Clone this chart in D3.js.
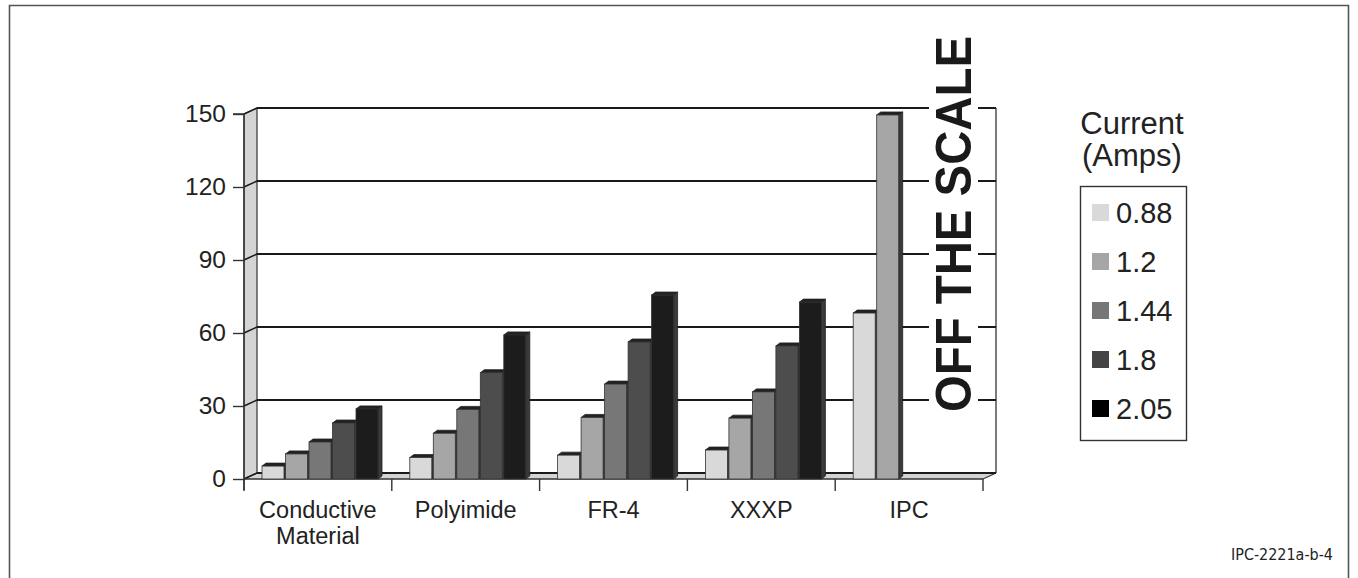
<!DOCTYPE html>
<html><head><meta charset="utf-8">
<script src="https://cdn.jsdelivr.net/npm/d3@7"></script>
<style>html,body{margin:0;padding:0;background:#fff;}svg{display:block;}</style>
</head><body>
<svg id="c" width="1358" height="578"></svg>
<script>
const categories = ["Conductive Material", "Polyimide", "FR-4", "XXXP", "IPC"];
const series = ["0.88", "1.2", "1.44", "1.8", "2.05"];
const values088 = [5.3, 8.8, 9.8, 11.9, 68.2];
const values120 = [10.3, 18.8, 25.3, 25.0, 149.6];
const values144 = [15.2, 28.6, 39.0, 35.8, null];
const values180 = [23.0, 43.7, 56.3, 54.7, null];
const values205 = [28.8, 59.2, 75.6, 72.7, null];
const yTicks = [0, 30, 60, 90, 120, 150];
const legendTitle = ["Current", "(Amps)"];
const note = "OFF THE SCALE";
const sourceLabel = "IPC-2221a-b-4";

const seriesValues = [values088, values120, values144, values180, values205];
const frontColors = ["#d9d9d9", "#a6a6a6", "#777777", "#4d4d4d", "#1c1c1c"];
const swatchColors = ["#d9d9d9", "#a6a6a6", "#777777", "#444444", "#000000"];

const svg = d3.select("#c");
const FONT = "'Liberation Sans', Arial, Helvetica, sans-serif";

// outer frame
svg.append("path").attr("d", "M9.5,600 L9.5,5.5 L1348.5,5.5 L1348.5,600")
  .attr("fill", "none").attr("stroke", "#555").attr("stroke-width", 1.6);

const DX = 13, DY = -6;
const x = d3.scaleBand().domain(categories).range([244, 983]);
const xs = d3.scaleBand().domain(series).range([18, 134]).paddingInner(1.5 / 23.5);
const y = d3.scaleLinear().domain([0, 150]).range([479, 114]);
const x0 = 244, x1 = 983;

const g = svg.append("g");
// side wall
g.append("path")
  .attr("d", `M${x0},${y(150)} L${x0 + DX},${y(150) + DY} L${x0 + DX},${y(0) + DY} L${x0},${y(0)} Z`)
  .attr("fill", "#d4d4d4").attr("stroke", "#333").attr("stroke-width", 1.2);
// floor
g.append("path")
  .attr("d", `M${x0},${y(0)} L${x0 + DX},${y(0) + DY} L${x1 + DX},${y(0) + DY} L${x1},${y(0)} Z`)
  .attr("fill", "#d4d4d4").attr("stroke", "#333").attr("stroke-width", 1.2);
// back wall right edge
g.append("line").attr("x1", x1 + DX).attr("x2", x1 + DX).attr("y1", y(150) + DY).attr("y2", y(0) + DY)
  .attr("stroke", "#222").attr("stroke-width", 1.2);
// gridlines
yTicks.forEach(t => {
  g.append("line").attr("x1", x0 + DX).attr("x2", x1 + DX).attr("y1", y(t) + DY).attr("y2", y(t) + DY)
    .attr("stroke", "#1a1a1a").attr("stroke-width", 2);
  g.append("line").attr("x1", x0).attr("x2", x0 + DX).attr("y1", y(t)).attr("y2", y(t) + DY)
    .attr("stroke", "#1a1a1a").attr("stroke-width", 1.5);
});

// y axis via d3
const yAxis = d3.axisLeft(y).tickValues(yTicks).tickSize(11).tickPadding(7);
const ya = svg.append("g").attr("transform", `translate(${x0},0)`).call(yAxis);
ya.select(".domain").attr("stroke", "#333").attr("stroke-width", 1.4).attr("d", `M-11,${y(150)}H0V${y(0) + 11}`);
ya.selectAll(".tick line").attr("stroke", "#333").attr("stroke-width", 1.4);
ya.selectAll(".tick text").attr("font-family", FONT).attr("font-size", 24.5).attr("fill", "#222");

// x axis boundaries
const bounds = categories.map(c => x(c)).concat([x1]);
svg.selectAll(".xtick").data(bounds).enter().append("line")
  .attr("x1", d => d).attr("x2", d => d).attr("y1", y(0)).attr("y2", y(0) + 12)
  .attr("stroke", "#333").attr("stroke-width", 1.4);
svg.append("line").attr("x1", x0).attr("x2", x1).attr("y1", y(0)).attr("y2", y(0)).attr("stroke", "#333").attr("stroke-width", 1.2);

// category labels
categories.forEach(c => {
  const words = c.split(" ");
  const t = svg.append("text").attr("x", x(c) + x.bandwidth() / 2).attr("y", 518)
    .attr("text-anchor", "middle").attr("font-family", FONT).attr("font-size", 23.5).attr("fill", "#222");
  words.forEach((w, i) => t.append("tspan").attr("x", x(c) + x.bandwidth() / 2).attr("dy", i === 0 ? 0 : 25.5).text(w));
});

// bars (3D)
const BD = 4, BH = -3;
const barsG = svg.append("g");
categories.forEach((c, ci) => {
  series.forEach((s, si) => {
    const v = seriesValues[si][ci];
    if (v === null) return;
    const bx = x(c) + xs(s), bw = xs.bandwidth();
    const top = y(v), bot = y(0);
    barsG.append("path")
      .attr("d", `M${bx + bw},${top} L${bx + bw + BD},${top + BH} L${bx + bw + BD},${bot + BH} L${bx + bw},${bot} Z`)
      .attr("fill", "#3a3a3a").attr("stroke", "#222").attr("stroke-width", 0.8);
    barsG.append("path")
      .attr("d", `M${bx},${top} L${bx + BD},${top + BH} L${bx + bw + BD},${top + BH} L${bx + bw},${top} Z`)
      .attr("fill", "#222").attr("stroke", "#222").attr("stroke-width", 0.8);
    barsG.append("rect").attr("x", bx).attr("y", top).attr("width", bw).attr("height", bot - top)
      .attr("fill", frontColors[si]).attr("stroke", "#333").attr("stroke-width", 0.8);
  });
});

// OFF THE SCALE note
svg.append("rect").attr("x", 929).attr("y", 30).attr("width", 49).attr("height", 386).attr("fill", "#fff");
svg.append("text").attr("transform", "translate(971,412) rotate(-90)")
  .attr("font-family", FONT).attr("font-weight", "bold").attr("font-size", 50)
  .attr("textLength", 376).attr("lengthAdjust", "spacingAndGlyphs").attr("fill", "#1a1a1a").text(note);

// legend
legendTitle.forEach((t, i) => {
  svg.append("text").attr("x", 1132).attr("y", 134 + i * 32).attr("text-anchor", "middle")
    .attr("font-family", FONT).attr("font-size", 31).attr("fill", "#222").text(t);
});
svg.append("rect").attr("x", 1080.5).attr("y", 186.5).attr("width", 106).attr("height", 254)
  .attr("fill", "#fff").attr("stroke", "#333").attr("stroke-width", 1.4);
const ly = d3.scalePoint().domain(series).range([212.5, 408.5]);
series.forEach((s, i) => {
  svg.append("rect").attr("x", 1092).attr("y", ly(s) - 8.5).attr("width", 17).attr("height", 17).attr("fill", swatchColors[i]);
  svg.append("text").attr("x", 1116).attr("y", ly(s) + 10.5).attr("font-family", FONT).attr("font-size", 29)
    .attr("fill", "#222").text(s);
});

// source label
svg.append("text").attr("x", 1333).attr("y", 560).attr("text-anchor", "end")
  .attr("font-family", "'Liberation Sans Narrow', 'DejaVu Sans Condensed', " + FONT).attr("font-size", 15)
  .attr("textLength", 102).attr("lengthAdjust", "spacingAndGlyphs").attr("fill", "#222").text(sourceLabel);
</script>
</body></html>
